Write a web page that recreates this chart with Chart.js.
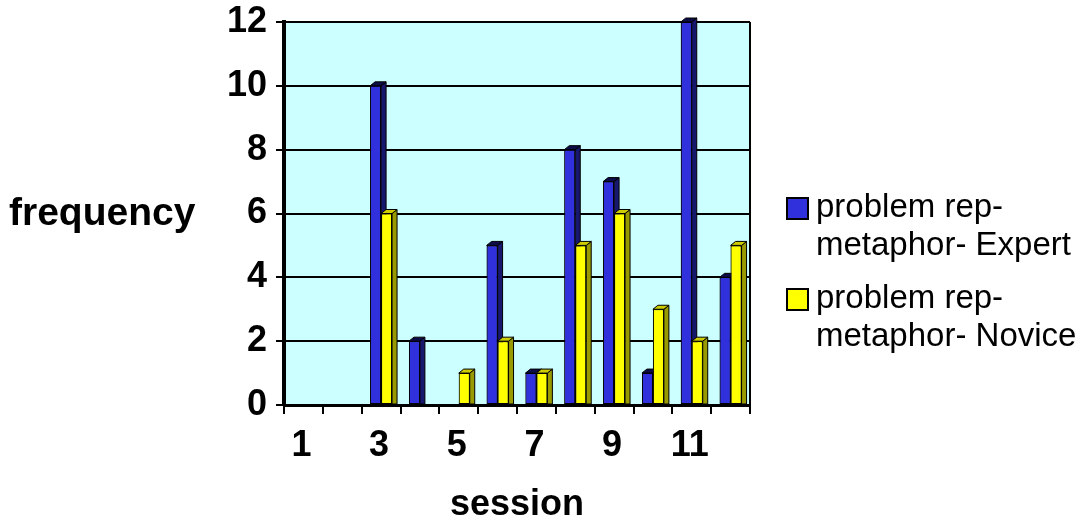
<!DOCTYPE html>
<html>
<head>
<meta charset="utf-8">
<script src="https://cdn.jsdelivr.net/npm/chart.js@4/dist/chart.umd.min.js"></script>
<style>
  html, body { margin: 0; padding: 0; background: #ffffff; }
  #wrap { position: relative; width: 1086px; height: 527px; overflow: hidden; }
  #chart { position: absolute; left: 0; top: 0; }
  .ytitle { position: absolute; left: 9px; top: 192px; font: bold 39px 'Liberation Sans', Arial, sans-serif; line-height: 39px; color: #000; white-space: nowrap; }
  .legend { position: absolute; left: 786px; font: 33px 'Liberation Sans', Arial, sans-serif; line-height: 38px; color: #000; }
  .legend .item { position: absolute; left: 0; white-space: nowrap; }
  .legend .swatch { position: absolute; left: 0; width: 19px; height: 19px; border: 2px solid #000; }
  .legend .text { position: absolute; left: 30px; top: 0; }
</style>
</head>
<body>
<div id="wrap">
  <canvas id="chart" width="1086" height="527"></canvas>
  <div class="ytitle" id="ytitle"></div>
  <div class="legend" id="legend"></div>
</div>
<script>
// Sessions on the category axis
const sessions = ['1', '2', '3', '4', '5', '6', '7', '8', '9', '10', '11', '12'];
// Frequency counts per session
const expertCounts = [0, 0, 10, 2, 0, 5, 1, 8, 7, 1, 12, 4];
const noviceCounts = [0, 0, 6, 0, 1, 2, 1, 5, 6, 3, 2, 5];
// Series names (wrapped onto two lines in the legend)
const expertLabel = ['problem rep-', 'metaphor- Expert'];
const noviceLabel = ['problem rep-', 'metaphor- Novice'];
// Value axis
const yMin = 0, yMax = 12, yStep = 2;
const xTitle = 'session';
const yTitle = 'frequency';

const FONT = "'Liberation Sans', Arial, sans-serif";
Chart.defaults.font.family = FONT;
Chart.defaults.color = '#000';

const palette = [
  { front: '#3030DD', side: '#17176E', top: '#0C0C48' },
  { front: '#FFFF00', side: '#999900', top: '#CCCC00' }
];

// Cyan back wall plus a right-hand frame edge
const wallPlugin = {
  id: 'wall',
  beforeDraw(chart) {
    const { ctx, chartArea: a } = chart;
    ctx.save();
    ctx.fillStyle = '#CCFFFF';
    ctx.fillRect(a.left, a.top, a.right - a.left, a.bottom - a.top);
    ctx.restore();
  },
  afterDraw(chart) {
    const { ctx, chartArea: a } = chart;
    ctx.save();
    ctx.strokeStyle = '#000';
    ctx.lineWidth = 2;
    ctx.beginPath();
    ctx.moveTo(a.right, a.top);
    ctx.lineTo(a.right, a.bottom);
    ctx.stroke();
    ctx.restore();
  }
};

// Gives each column a shaded side and top so the bars read as 3-D blocks.
const depthPlugin = {
  id: 'depth',
  afterDatasetsDraw(chart) {
    const { ctx } = chart;
    const dx = 5, dy = 4;
    ctx.save();
    ctx.beginPath();
    ctx.rect(chart.chartArea.left, 0, chart.chartArea.right - chart.chartArea.left + dx, chart.chartArea.bottom);
    ctx.clip();
    chart.data.datasets.forEach((ds, di) => {
      const meta = chart.getDatasetMeta(di);
      const col = palette[di];
      meta.data.forEach((el, i) => {
        if (!ds.data[i]) return;
        el.draw(ctx, chart.chartArea);
        const p = el.getProps(['x', 'y', 'base', 'width'], true);
        const l = p.x - p.width / 2, r = p.x + p.width / 2;
        ctx.lineWidth = 1;
        ctx.strokeStyle = '#000';
        // side face
        ctx.beginPath();
        ctx.moveTo(r, p.y);
        ctx.lineTo(r + dx, p.y - dy);
        ctx.lineTo(r + dx, p.base);
        ctx.lineTo(r, p.base);
        ctx.closePath();
        ctx.fillStyle = col.side;
        ctx.fill();
        ctx.stroke();
        // top face
        ctx.beginPath();
        ctx.moveTo(l, p.y);
        ctx.lineTo(l + dx, p.y - dy);
        ctx.lineTo(r + dx, p.y - dy);
        ctx.lineTo(r, p.y);
        ctx.closePath();
        ctx.fillStyle = col.top;
        ctx.fill();
        ctx.stroke();
      });
    });
    ctx.restore();
  }
};

const chart = new Chart(document.getElementById('chart'), {
  type: 'bar',
  data: {
    labels: sessions,
    datasets: [
      {
        label: expertLabel.join(''),
        data: expertCounts,
        backgroundColor: palette[0].front,
        borderColor: '#000',
        borderWidth: 1,
        borderSkipped: false
      },
      {
        label: noviceLabel.join(''),
        data: noviceCounts,
        backgroundColor: palette[1].front,
        borderColor: '#000',
        borderWidth: 1,
        borderSkipped: false
      }
    ]
  },
  options: {
    responsive: false,
    animation: false,
    events: [],
    layout: { padding: { left: 0, top: 22, right: 336, bottom: 0 } },
    datasets: { bar: { categoryPercentage: 0.565, barPercentage: 1 } },
    plugins: {
      legend: { display: false },
      tooltip: { enabled: false }
    },
    scales: {
      x: {
        afterFit(scale) { scale.height = 122; scale.paddingLeft = 0; scale.paddingRight = 0; },
        grid: {
          offset: true,
          drawOnChartArea: false,
          drawTicks: true,
          tickLength: 9,
          color: '#000',
          lineWidth: 2
        },
        border: { display: true, color: '#000', width: 3 },
        ticks: {
          autoSkip: false,
          maxRotation: 0,
          padding: 10,
          labelOffset: -2,
          font: { size: 36, weight: 'bold' },
          color: '#000',
          callback: (v, idx) => (idx % 2 === 0 ? sessions[idx] : '')
        },
        title: {
          display: true,
          text: xTitle,
          font: { size: 36, weight: 'bold' },
          color: '#000',
          padding: { top: 0, bottom: 0 }
        }
      },
      y: {
        min: yMin,
        max: yMax,
        afterFit(scale) { scale.width = 284; scale.paddingTop = 0; scale.paddingBottom = 0; },
        grid: {
          color: '#000',
          lineWidth: 2,
          tickLength: 8
        },
        border: { display: true, color: '#000', width: 4 },
        ticks: {
          stepSize: yStep,
          padding: 9,
          font: { size: 36, weight: 'bold' },
          color: '#000'
        }
      }
    }
  },
  plugins: [wallPlugin, depthPlugin]
});

// Axis title on the left, written horizontally
document.getElementById('ytitle').textContent = yTitle;

// Legend built from the dataset colours and the wrapped series names
const legendEl = document.getElementById('legend');
const legendTops = [187, 278];
[expertLabel, noviceLabel].forEach((lines, i) => {
  const item = document.createElement('div');
  item.className = 'item';
  item.style.top = legendTops[i] + 'px';
  const sw = document.createElement('div');
  sw.className = 'swatch';
  sw.style.top = '10px';
  sw.style.background = chart.data.datasets[i].backgroundColor;
  const tx = document.createElement('div');
  tx.className = 'text';
  lines.forEach((ln) => {
    const d = document.createElement('div');
    d.textContent = ln;
    tx.appendChild(d);
  });
  item.appendChild(sw);
  item.appendChild(tx);
  legendEl.appendChild(item);
});
</script>
</body>
</html>
